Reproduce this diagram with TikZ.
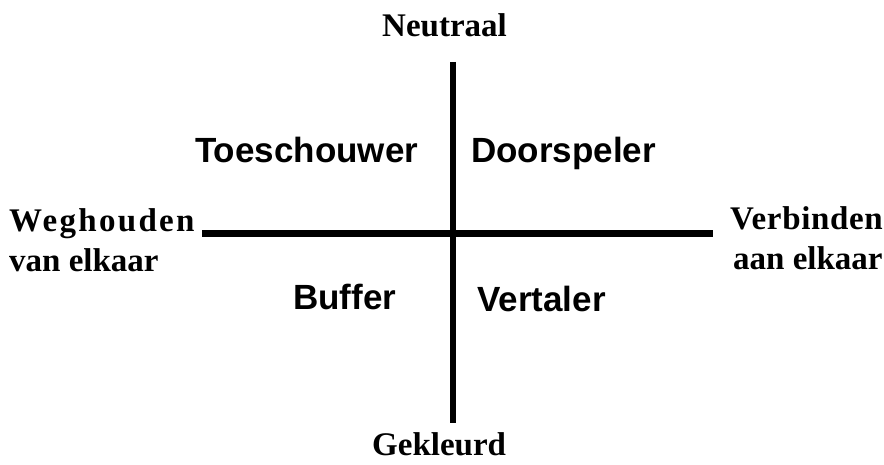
\documentclass[tikz,border=0pt]{standalone}
\usepackage{fontspec}
\setmainfont{Liberation Serif}
\newfontfamily\lblsans{Liberation Sans}
\begin{document}
\begin{tikzpicture}[x=1pt,y=1pt,
  axis/.style={line width=6.5pt,black},
  pole/.style={font=\fontsize{33}{36}\selectfont\bfseries,inner sep=0pt,anchor=base west},
  role/.style={font=\lblsans\fontsize{35}{40}\selectfont\bfseries,inner sep=0pt,anchor=base west}]
\useasboundingbox (0,0) rectangle (884,464);
\fill[white] (0,0) rectangle (884,464);
% axes
\coordinate (top) at (453,402);
\coordinate (bottom) at (453,41);
\coordinate (left) at (202,230.5);
\coordinate (right) at (713,230.5);
\draw[axis] (top) -- (bottom);
\draw[axis] (left) -- (right);
% pole labels
\node[pole] (neutraal) at (382,427) {Neutraal};
\node[pole] (gekleurd) at (372,9) {Gekleurd};
\node[pole] (weghouden) at (9,232) {\addfontfeature{LetterSpace=7}Weghouden};
\node[pole] (vanelkaar) at (9,192) {van elkaar};
\node[pole] (verbinden) at (730,234) {\addfontfeature{LetterSpace=2}Verbinden};
\node[pole] (aanelkaar) at (733,194) {aan elkaar};
% roles
\node[role] (toeschouwer) at (195,301) {Toeschouwer};
\node[role] (doorspeler) at (471,301) {Doorspeler};
\node[role] (buffer) at (293,154) {Buffer};
\node[role] (vertaler) at (477,152) {Vertaler};
\end{tikzpicture}
\end{document}
